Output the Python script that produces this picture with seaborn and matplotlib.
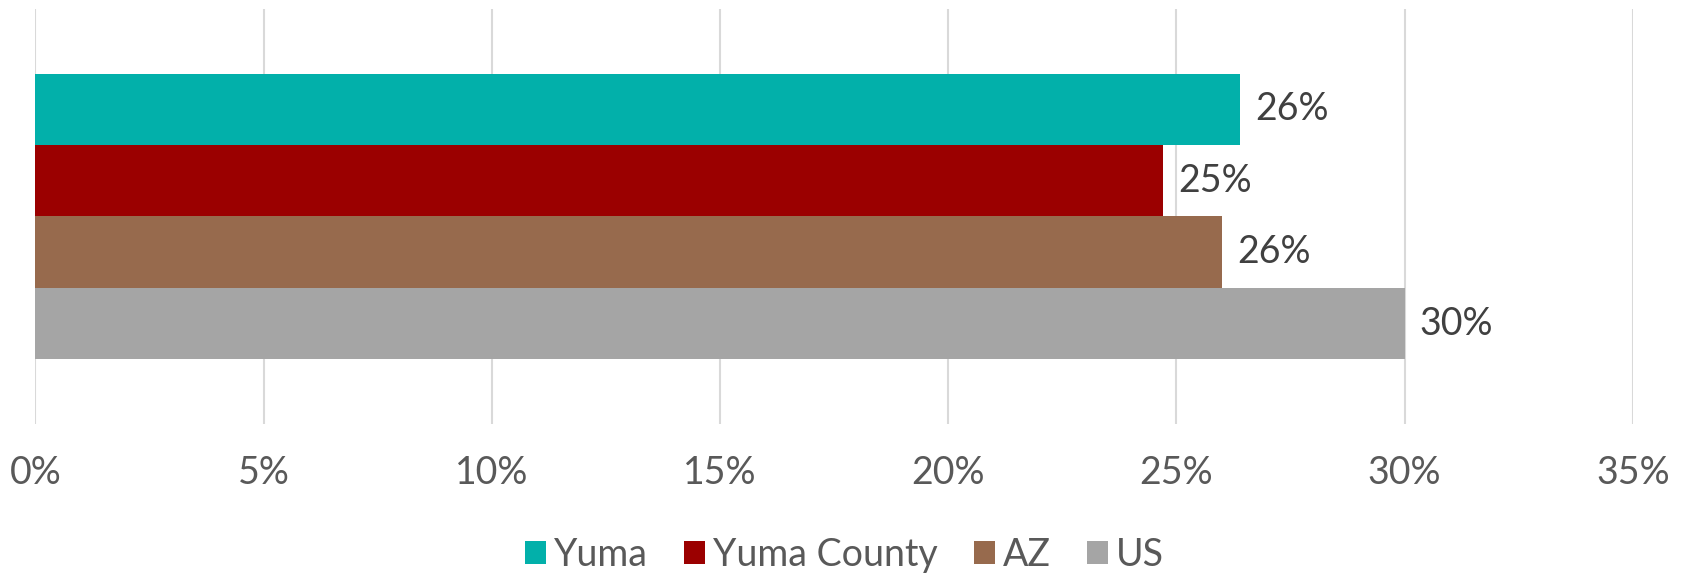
import matplotlib
matplotlib.use("Agg")
import matplotlib.pyplot as plt
import seaborn as sns
import pandas as pd
from matplotlib.ticker import MultipleLocator, FuncFormatter

# Share of population (percent) for each geography
groups = ["Yuma", "Yuma County", "AZ", "US"]
values = [26.4, 24.7, 26.0, 30.0]
colors = ["#02B0AA", "#9B0000", "#976A4D", "#A5A5A5"]

df = pd.DataFrame({"cat": [""] * len(groups), "group": groups, "value": values})

sns.set_theme(style="white")
plt.rcParams["font.family"] = ["Lato", "DejaVu Sans"]

fig = plt.figure(figsize=(16.89, 5.77), dpi=100)
ax = fig.add_axes([0.021, 0.2652, 0.9457, 0.7192])

sns.barplot(
    data=df, x="value", y="cat", hue="group", hue_order=groups,
    palette=colors, saturation=1, orient="h", width=0.689, linewidth=0,
    ax=ax, legend=False,
)

ax.set_xlim(0, 35)
ax.set_ylim(0.5, -0.5)
ax.xaxis.set_major_locator(MultipleLocator(5))
ax.xaxis.set_major_formatter(FuncFormatter(lambda v, _: f"{v:.0f}%"))
ax.grid(axis="x", color="#D9D9D9", linewidth=1.5)
ax.grid(axis="y", visible=False)
ax.set_axisbelow(True)
for s in ax.spines.values():
    s.set_visible(False)
ax.set_yticks([])
ax.set_xlabel("")
ax.set_ylabel("")
ax.tick_params(axis="x", length=0, pad=22, labelsize=27, labelcolor="#595959")

for cont in ax.containers:
    ax.bar_label(cont, labels=[f"{b.get_width():.0f}%" for b in cont],
                 padding=11, fontsize=27, color="#404040")

handles = [plt.Rectangle((0, 0), 1, 1, color=c, linewidth=0) for c in colors]
fig.legend(handles, groups, loc="center", bbox_to_anchor=(0.5, 0.038), ncol=4,
           frameon=False, fontsize=27, labelcolor="#595959",
           handlelength=0.56, handleheight=0.56, handletextpad=0.22,
           columnspacing=0.95, borderaxespad=0)

fig.savefig("out.png", dpi=100, facecolor="white")
